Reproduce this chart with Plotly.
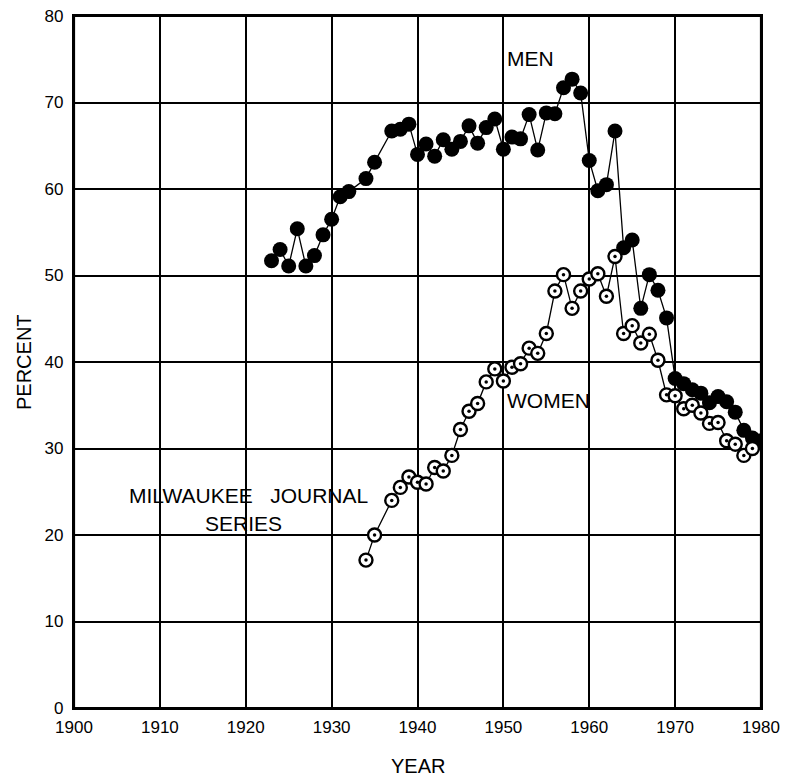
import plotly.graph_objects as go

# ---- data ----
men_years = [1923, 1924, 1925, 1926, 1927, 1928, 1929, 1930, 1931, 1932, 1934, 1935,
             1937, 1938, 1939, 1940, 1941, 1942, 1943, 1944, 1945, 1946, 1947, 1948,
             1949, 1950, 1951, 1952, 1953, 1954, 1955, 1956, 1957, 1958, 1959, 1960,
             1961, 1962, 1963, 1964, 1965, 1966, 1967, 1968, 1969, 1970, 1971, 1972,
             1973, 1974, 1975, 1976, 1977, 1978, 1979, 1980]
men_pct = [51.7, 53.0, 51.1, 55.4, 51.1, 52.3, 54.7, 56.5, 59.1, 59.7, 61.2, 63.1,
           66.7, 66.9, 67.5, 64.0, 65.2, 63.8, 65.7, 64.6, 65.5, 67.3, 65.3, 67.1,
           68.1, 64.6, 66.0, 65.8, 68.6, 64.5, 68.8, 68.7, 71.7, 72.7, 71.1, 63.3,
           59.8, 60.5, 66.7, 53.2, 54.1, 46.2, 50.1, 48.3, 45.1, 38.1, 37.5, 36.8,
           36.4, 35.3, 36.0, 35.4, 34.2, 32.1, 31.2, 30.9]

women_years = [1934, 1935, 1937, 1938, 1939, 1940, 1941, 1942, 1943, 1944, 1945, 1946,
               1947, 1948, 1949, 1950, 1951, 1952, 1953, 1954, 1955, 1956, 1957, 1958,
               1959, 1960, 1961, 1962, 1963, 1964, 1965, 1966, 1967, 1968, 1969, 1970,
               1971, 1972, 1973, 1974, 1975, 1976, 1977, 1978, 1979]
women_pct = [17.1, 20.0, 24.0, 25.5, 26.7, 26.1, 25.9, 27.8, 27.4, 29.2, 32.2, 34.3,
             35.2, 37.7, 39.2, 37.8, 39.4, 39.8, 41.6, 41.0, 43.3, 48.2, 50.1, 46.2,
             48.2, 49.6, 50.2, 47.6, 52.2, 43.3, 44.2, 42.2, 43.2, 40.2, 36.2, 36.1,
             34.6, 35.0, 34.1, 32.9, 33.0, 30.9, 30.5, 29.2, 30.0]

x_ticks = [1900, 1910, 1920, 1930, 1940, 1950, 1960, 1970, 1980]
y_ticks = [0, 10, 20, 30, 40, 50, 60, 70, 80]

FONT = "Liberation Sans"

fig = go.Figure()

fig.add_trace(go.Scatter(
    x=men_years, y=men_pct, mode="lines+markers", name="MEN",
    line=dict(color="black", width=1.3),
    marker=dict(symbol="circle", size=15, color="black"),
    showlegend=False,
))

fig.add_trace(go.Scatter(
    x=women_years, y=women_pct, mode="lines+markers", name="WOMEN",
    line=dict(color="black", width=1.3),
    marker=dict(symbol="circle", size=13, color="white",
                line=dict(color="black", width=2.4)),
    showlegend=False,
))
fig.add_trace(go.Scatter(
    x=women_years, y=women_pct, mode="markers", name="WOMEN_dot",
    marker=dict(symbol="circle", size=3.5, color="black"),
    showlegend=False, hoverinfo="skip",
))

ann_font = dict(family=FONT, size=21, color="black")
fig.add_annotation(x=1953.1, y=75.1, text="MEN", showarrow=False, font=ann_font)
fig.add_annotation(x=1955.2, y=35.6, text="WOMEN", showarrow=False, font=ann_font)
fig.add_annotation(x=1920.3, y=24.6, text="MILWAUKEE&nbsp;&nbsp;&nbsp;JOURNAL",
                   showarrow=False, font=ann_font)
fig.add_annotation(x=1919.7, y=21.3, text="SERIES", showarrow=False, font=ann_font)

fig.add_annotation(xref="paper", yref="paper", x=0.5, y=0, yanchor="middle",
                   yshift=-58, text="YEAR", showarrow=False,
                   font=dict(family=FONT, size=20, color="black"))
fig.add_annotation(xref="paper", yref="paper", x=0, y=0.5, xanchor="center",
                   xshift=-50, text="PERCENT", textangle=-90, showarrow=False,
                   font=dict(family=FONT, size=20, color="black"))

# plot frame
fig.add_shape(type="rect", xref="paper", yref="paper", x0=0, y0=0, x1=1, y1=1,
              line=dict(color="black", width=2.2), layer="above")

axis_common = dict(
    showgrid=True, gridcolor="black", gridwidth=1.6,
    showline=True, linecolor="black", linewidth=2.2, mirror=True,
    zeroline=False, ticks="", tickfont=dict(family=FONT, size=17, color="black"),
    ticklabeloverflow="allow", automargin=False, fixedrange=True,
)

fig.update_xaxes(range=[1900, 1980], tickvals=x_ticks,
                 ticktext=[str(v) for v in x_ticks], ticklabelstandoff=2,
                 **axis_common)
fig.update_yaxes(range=[0, 80], tickvals=y_ticks,
                 ticktext=[str(v) for v in y_ticks], ticklabelstandoff=5,
                 **axis_common)

# the page adds an 8px body margin, so the figure is offset to compensate
fig.update_layout(
    width=789, height=772,
    margin=dict(l=66, r=36, t=8, b=72),
    plot_bgcolor="white", paper_bgcolor="white",
    font=dict(family=FONT, color="black"),
)

fig.write_html("out.html")
